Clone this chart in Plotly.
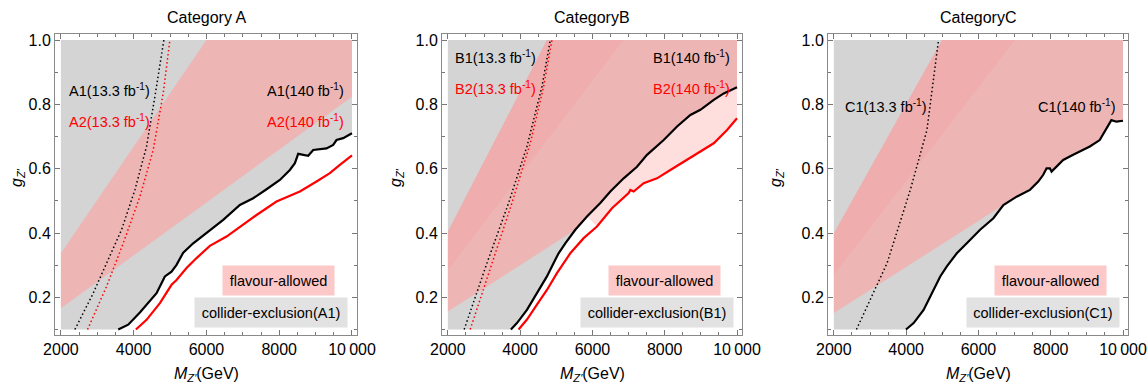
import plotly.graph_objects as go

# ---------------- data ----------------
# Category A
mass_A1_140 = [3576, 3850, 4171, 4446, 4629, 4858, 5041, 5178, 5362, 5637, 6003, 6461, 6919, 7285,
               7652, 8018, 8293, 8431, 8522, 8797, 8934, 9300, 9484, 9575, 9758, 10000]
g_A1_140 = [0.100, 0.115, 0.153, 0.187, 0.213, 0.265, 0.280, 0.301, 0.339, 0.368, 0.401, 0.441, 0.487, 0.508,
            0.536, 0.565, 0.596, 0.617, 0.646, 0.640, 0.658, 0.663, 0.674, 0.689, 0.695, 0.710]
mass_A2_140 = [4061, 4354, 4721, 5041, 5178, 5453, 5728, 6094, 6552, 6919, 7377, 7926, 8568, 9026, 9392, 9667, 10000]
g_A2_140 = [0.100, 0.130, 0.182, 0.239, 0.254, 0.291, 0.322, 0.360, 0.389, 0.420, 0.456, 0.498, 0.529, 0.560,
            0.586, 0.612, 0.641]
mass_A1_13 = [2385, 2889, 3255, 3667, 4034, 4354, 4583, 4720, 4830]
g_A1_13 = [0.100, 0.213, 0.306, 0.410, 0.534, 0.669, 0.824, 0.928, 1.000]
mass_A2_13 = [2733, 3255, 3713, 4171, 4537, 4812, 4995]
g_A2_13 = [0.100, 0.234, 0.368, 0.513, 0.658, 0.834, 1.000]
flav_A_mass = [2000, 6000, 10000, 10000, 2000]
flav_A_g = [0.337, 1.000, 1.000, 0.824, 0.166]

# Category B
mass_B1_140 = [3744, 3911, 4188, 4464, 4741, 4972, 5064, 5249, 5526, 5849, 6218, 6495, 6864, 7233, 7510,
               7972, 8341, 8710, 8987, 9356, 9633, 10000]
g_B1_140 = [0.100, 0.120, 0.161, 0.213, 0.265, 0.317, 0.337, 0.368, 0.410, 0.451, 0.493, 0.529, 0.570, 0.606,
            0.643, 0.689, 0.731, 0.767, 0.783, 0.814, 0.834, 0.853]
mass_B2_140 = [3957, 4188, 4464, 4741, 5018, 5387, 5757, 6126, 6541, 6864, 7002, 7049, 7141, 7418, 7787, 8156,
               8526, 8987, 9356, 9725, 10000]
g_B2_140 = [0.100, 0.131, 0.177, 0.223, 0.275, 0.337, 0.384, 0.420, 0.477, 0.508, 0.524, 0.534, 0.529, 0.555,
            0.570, 0.596, 0.622, 0.653, 0.679, 0.720, 0.757]
mass_B1_13 = [2452, 3080, 3680, 4188, 4603, 4834]
g_B1_13 = [0.100, 0.306, 0.493, 0.669, 0.855, 1.000]
mass_B2_13 = [2618, 3218, 3772, 4280, 4649, 4880]
g_B2_13 = [0.100, 0.306, 0.493, 0.679, 0.855, 1.000]
flav_B_upper_mass = [2000, 4740, 10000]
flav_B_upper_g = [0.405, 1.000, 1.000]
flav_B_lower_mass = [2000]
flav_B_lower_g = [0.156]
dense_B_mass = [2000, 4740, 6860, 2000]
dense_B_g = [0.405, 1.000, 1.000, 0.285]

# Category C
mass_C1_140 = [3995, 4207, 4483, 4667, 4851, 4943, 5126, 5402, 5678, 6046, 6414, 6690, 7057, 7425, 7655, 7793,
               7885, 7977, 8023, 8161, 8345, 8621, 9081, 9356, 9494, 9586, 9678, 9816, 10000]
g_C1_140 = [0.100, 0.120, 0.161, 0.203, 0.244, 0.265, 0.296, 0.337, 0.368, 0.410, 0.446, 0.487, 0.513, 0.534,
            0.560, 0.581, 0.601, 0.601, 0.591, 0.606, 0.627, 0.643, 0.669, 0.689, 0.715, 0.736, 0.751, 0.746, 0.749]
mass_C1_13 = [2625, 3471, 4115, 4575, 4896]
g_C1_13 = [0.100, 0.306, 0.534, 0.720, 1.000]
flav_C_upper_mass = [2000, 4990, 10000]
flav_C_upper_g = [0.399, 1.000, 1.000]
flav_C_lower_mass = [2000]
flav_C_lower_g = [0.151]
dense_C_mass = [2000, 4990, 7010, 2000]
dense_C_g = [0.399, 1.000, 1.000, 0.270]

x_ticks = [2000, 4000, 6000, 8000, 10000]
x_ticklabels = ["2000", "4000", "6000", "8000", "10\u2009000"]
y_ticks = [0.2, 0.4, 0.6, 0.8, 1.0]
y_ticklabels = ["0.2", "0.4", "0.6", "0.8", "1.0"]

# ---------------- styling ----------------
FONT = "Liberation Sans, Arial, sans-serif"
GRAY = "rgb(212,212,212)"
PINK = "rgba(255,160,160,0.60)"
PINK_DENSE = "rgba(255,110,110,0.10)"
PINK_SPARSE = "rgba(255,160,160,0.35)"
W, H = 1147, 385
frames = [(55, 357), (442, 742), (828, 1128)]
top_px, bot_px = 34, 335

fig = go.Figure()


def add_fill(k, xs, ys, color):
    fig.add_trace(go.Scatter(x=xs, y=ys, fill="toself", fillcolor=color, mode="lines",
                             line=dict(width=0), hoverinfo="skip", showlegend=False,
                             xaxis=f"x{k if k > 1 else ''}", yaxis=f"y{k if k > 1 else ''}"))


def add_line(k, xs, ys, color, dotted=False):
    fig.add_trace(go.Scatter(x=xs, y=ys, mode="lines",
                             line=dict(color=color, width=1.5 if dotted else 2.2,
                                       dash="1.5px,2.6px" if dotted else "solid"),
                             hoverinfo="skip", showlegend=False,
                             xaxis=f"x{k if k > 1 else ''}", yaxis=f"y{k if k > 1 else ''}"))


def gray_region(k, mx, gy):
    add_fill(k, [2000, 2000] + mx + [10000], [1.0, 0.1] + gy + [1.0], GRAY)


# Panel A
gray_region(1, mass_A1_140, g_A1_140)
add_fill(1, flav_A_mass, flav_A_g, PINK)
add_line(1, mass_A1_13, g_A1_13, "black", True)
add_line(1, mass_A2_13, g_A2_13, "red", True)
add_line(1, mass_A1_140, g_A1_140, "black")
add_line(1, mass_A2_140, g_A2_140, "red")

# Panel B
gray_region(2, mass_B1_140, g_B1_140)
pb = [(m, g) for m, g in zip(mass_B1_140, g_B1_140) if m >= 5500][::-1]
add_fill(2, flav_B_upper_mass + [p[0] for p in pb] + flav_B_lower_mass,
         flav_B_upper_g + [p[1] for p in pb] + flav_B_lower_g, PINK)
add_fill(2, dense_B_mass, dense_B_g, PINK_DENSE)
sb = [(m, g) for m, g in zip(mass_B1_140, g_B1_140) if m >= 5800]
sr = [(m, g) for m, g in zip(mass_B2_140, g_B2_140) if m >= 6100][::-1]
add_fill(2, [p[0] for p in sb] + [p[0] for p in sr], [p[1] for p in sb] + [p[1] for p in sr], PINK_SPARSE)
add_line(2, mass_B1_13, g_B1_13, "black", True)
add_line(2, mass_B2_13, g_B2_13, "red", True)
add_line(2, mass_B1_140, g_B1_140, "black")
add_line(2, mass_B2_140, g_B2_140, "red")

# Panel C
gray_region(3, mass_C1_140, g_C1_140)
pc = [(m, g) for m, g in zip(mass_C1_140, g_C1_140) if m >= 6650][::-1]
add_fill(3, flav_C_upper_mass + [p[0] for p in pc] + flav_C_lower_mass,
         flav_C_upper_g + [p[1] for p in pc] + flav_C_lower_g, PINK)
add_fill(3, dense_C_mass, dense_C_g, PINK_DENSE)
add_line(3, mass_C1_13, g_C1_13, "black", True)
add_line(3, mass_C1_140, g_C1_140, "black")

# ---------------- axes ----------------
x_range = [1838, 10138]
y_range = [0.0829, 1.0187]
ydom = [(H - bot_px) / H, (H - top_px) / H]
layout_axes = {}
for i, (l, r) in enumerate(frames, start=1):
    sfx = "" if i == 1 else str(i)
    layout_axes[f"xaxis{sfx}"] = dict(
        domain=[l / W, r / W], range=x_range, anchor=f"y{sfx}", automargin=False,
        tickvals=x_ticks, ticktext=x_ticklabels, ticks="inside", ticklen=5, tickwidth=1, tickcolor="#777",
        minor=dict(dtick=500, tick0=0, ticks="inside", ticklen=3, tickcolor="#777"),
        showline=True, linecolor="#8a8a8a", linewidth=1, mirror="ticks", showgrid=False, zeroline=False,
        tickfont=dict(family=FONT, size=16, color="black"))
    layout_axes[f"yaxis{sfx}"] = dict(
        domain=ydom, range=y_range, anchor=f"x{sfx}", automargin=False,
        tickvals=y_ticks, ticktext=y_ticklabels, ticks="inside", ticklen=5, tickwidth=1, tickcolor="#777",
        minor=dict(dtick=0.1, tick0=0, ticks="inside", ticklen=3, tickcolor="#777"),
        showline=True, linecolor="#8a8a8a", linewidth=1, mirror="ticks", showgrid=False, zeroline=False,
        tickfont=dict(family=FONT, size=16, color="black"))

# ---------------- annotations ----------------
ann = []
titles = ["Category A", "CategoryB", "CategoryC"]
title_x = [206, 592, 978]
ylab_x = [18, 397, 777]
for i in range(3):
    ann.append(dict(text=titles[i], x=title_x[i] / W, y=1 - 17.5 / H, xref="paper", yref="paper",
                    showarrow=False, xanchor="center", yanchor="middle",
                    font=dict(family=FONT, size=16, color="black")))
    ann.append(dict(text="<i>M</i><sub><i>Z′</i></sub>(GeV)", x=title_x[i] / W, y=1 - 374 / H,
                    xref="paper", yref="paper", showarrow=False, xanchor="center", yanchor="middle",
                    font=dict(family=FONT, size=16, color="black")))
    ann.append(dict(text="<i>g</i><sub><i>Z′</i></sub>", x=ylab_x[i] / W, y=1 - 178 / H, textangle=-90,
                    xref="paper", yref="paper", showarrow=False, xanchor="center", yanchor="middle",
                    font=dict(family=FONT, size=16, color="black")))


def label(k, text, x, y, color, anchor):
    sfx = "" if k == 1 else str(k)
    ann.append(dict(text=text, x=x, y=y, xref=f"x{sfx}", yref=f"y{sfx}", showarrow=False,
                    xanchor=anchor, yanchor="middle", font=dict(family=FONT, size=14.5, color=color)))


def boxes(k, tag):
    sfx = "" if k == 1 else str(k)
    ann.append(dict(text="flavour-allowed", x=7980, y=0.251, xref=f"x{sfx}", yref=f"y{sfx}",
                    showarrow=False, xanchor="center", yanchor="middle", bgcolor="rgb(252,200,200)",
                    width=105, height=23, borderpad=3, font=dict(family=FONT, size=14.5, color="black")))
    ann.append(dict(text=f"collider-exclusion({tag})", x=7780, y=0.152, xref=f"x{sfx}", yref=f"y{sfx}",
                    showarrow=False, xanchor="center", yanchor="middle", bgcolor="rgb(226,226,226)",
                    width=146, height=23, borderpad=3, font=dict(family=FONT, size=14.5, color="black")))


fb = " fb<sup>-1</sup>)"
label(1, "A1(13.3" + fb, 2165, 0.845, "black", "left")
label(1, "A2(13.3" + fb, 2165, 0.749, "red", "left")
label(1, "A1(140" + fb, 9830, 0.845, "black", "right")
label(1, "A2(140" + fb, 9830, 0.749, "red", "right")
boxes(1, "A1")
label(2, "B1(13.3" + fb, 2139, 0.947, "black", "left")
label(2, "B2(13.3" + fb, 2139, 0.851, "red", "left")
label(2, "B1(140" + fb, 9867, 0.947, "black", "right")
label(2, "B2(140" + fb, 9867, 0.851, "red", "right")
boxes(2, "B1")
label(3, "C1(13.3" + fb, 2248, 0.795, "black", "left")
label(3, "C1(140" + fb, 9862, 0.795, "black", "right")
boxes(3, "C1")

fig.update_layout(width=W, height=H, margin=dict(l=0, r=0, t=0, b=0, pad=0),
                  paper_bgcolor="white", plot_bgcolor="white", showlegend=False,
                  annotations=ann, font=dict(family=FONT), **layout_axes)

fig.write_html("out.html", config={"displayModeBar": False},
               post_script="document.body.style.margin='0';document.body.style.overflow='hidden';")
